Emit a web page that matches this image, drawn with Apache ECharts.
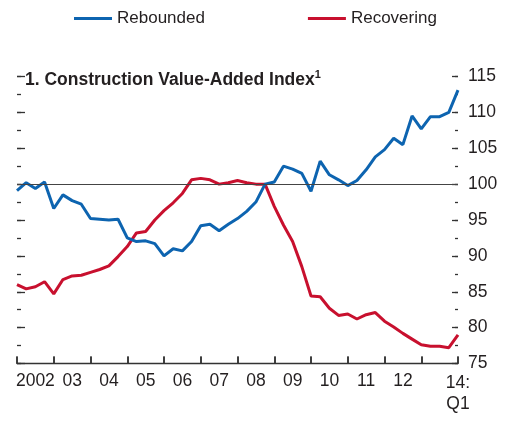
<!DOCTYPE html>
<html>
<head>
<meta charset="utf-8">
<script src="https://cdn.jsdelivr.net/npm/echarts@6/dist/echarts.min.js"></script>
<style>
  html, body { margin: 0; padding: 0; background: #fff; }
  #chart { width: 505px; height: 421px; }
</style>
</head>
<body>
<div id="chart"></div>
<script>
// Quarterly index, 2002:Q1 - 2014:Q1
const quarters = [];
for (let y = 2002; y <= 2014; y++) {
    for (let q = 1; q <= 4; q++) {
        if (y === 2014 && q > 1) break;
        quarters.push(y + 'Q' + q);
    }
}
const yearLabels = ['2002', '03', '04', '05', '06', '07', '08', '09', '10', '11', '12', ''];
// only the last quarter gets its own label
const endLabels = quarters.map(function (q, i) { return i === quarters.length - 1 ? '14:\nQ1' : ''; });

const rebounded = [99.1, 100.2, 99.4, 100.3, 96.6, 98.5, 97.7, 97.2, 95.2, 95.1, 95.0, 95.1,
    92.5, 92.0, 92.1, 91.7, 90.0, 91.0, 90.7, 92.0, 94.2, 94.4, 93.5, 94.4,
    95.2, 96.2, 97.5, 100.0, 100.3, 102.5, 102.1, 101.5, 99.0, 103.2, 101.3, 100.6,
    99.8, 100.5, 102.0, 103.8, 104.8, 106.4, 105.5, 109.5, 107.7, 109.4, 109.4, 110.0,
    113.1];
const recovering = [86.0, 85.4, 85.7, 86.4, 84.7, 86.7, 87.2, 87.3, 87.7, 88.1, 88.6, 89.9,
    91.3, 93.2, 93.4, 95.0, 96.3, 97.4, 98.7, 100.6, 100.8, 100.6, 100.0, 100.2,
    100.5, 100.2, 100.0, 100.0, 96.9, 94.3, 92.0, 88.5, 84.4, 84.3, 82.7, 81.7,
    81.9, 81.2, 81.8, 82.1, 80.9, 80.1, 79.2, 78.4, 77.6, 77.4, 77.4, 77.2,
    79.0];

const font = 'Liberation Sans';
const textColor = '#231f20';
const blue = '#0d64b0';
const red = '#c8102e';
const tickColor = '#333';

// plain tick-only y axis (no labels), used for major/minor tick sets
function tickAxis(position, interval, length) {
    return {
        type: 'value',
        position: position,
        min: 75,
        max: 115,
        interval: interval,
        axisLine: { show: false },
        axisTick: { show: true, inside: true, length: length, lineStyle: { color: tickColor, width: 1.3 } },
        axisLabel: { show: false },
        splitLine: { show: false }
    };
}

const chart = echarts.init(document.getElementById('chart'));
chart.setOption({
    animation: false,
    title: {
        text: '{a|1. Construction Value-Added Index}{b|1}',
        left: 20,
        top: 64,
        textStyle: {
            rich: {
                a: { fontFamily: font, fontWeight: 'bold', fontSize: 17.5, color: textColor, lineHeight: 22 },
                b: { fontFamily: font, fontWeight: 'bold', fontSize: 11, color: textColor, verticalAlign: 'top', lineHeight: 22 }
            }
        }
    },
    legend: {
        data: ['Rebounded', 'Recovering'],
        left: 69,
        top: 5,
        icon: 'rect',
        itemWidth: 38,
        itemHeight: 3,
        itemGap: 103,
        textStyle: { fontFamily: font, fontSize: 17, color: textColor }
    },
    grid: [
        { left: 17, right: 47, top: 76.5, bottom: 57.5 },
        // thin strip along the bottom axis, its split lines act as the year ticks
        { left: 17, right: 47, bottom: 57.5, height: 7 }
    ],
    xAxis: [
        {
            type: 'category',
            data: quarters,
            boundaryGap: false,
            axisLine: { show: true, lineStyle: { color: tickColor, width: 1.3 } },
            axisTick: { show: true, inside: true, length: 7, interval: 3, lineStyle: { color: tickColor, width: 1.5 } },
            axisLabel: { show: false },
            splitLine: { show: false }
        },
        {
            type: 'category',
            data: yearLabels,
            position: 'bottom',
            boundaryGap: true,
            axisLine: { show: false },
            axisTick: { show: false },
            axisLabel: { fontFamily: font, fontSize: 17.5, color: textColor, margin: 9, interval: 0 },
            splitLine: { show: false }
        },
        {
            type: 'category',
            data: endLabels,
            position: 'bottom',
            boundaryGap: false,
            axisLine: { show: false },
            axisTick: { show: false },
            axisLabel: { fontFamily: font, fontSize: 17.5, lineHeight: 21, color: textColor, margin: 9, interval: 0 },
            splitLine: { show: false }
        },
        {
            gridIndex: 1,
            type: 'category',
            data: yearLabels,
            boundaryGap: true,
            axisLine: { show: false },
            axisTick: { show: false },
            axisLabel: { show: false },
            splitLine: { show: true, interval: 0, lineStyle: { color: tickColor, width: 1.5 } }
        }
    ],
    yAxis: [
        {
            type: 'value',
            position: 'right',
            min: 75,
            max: 115,
            interval: 5,
            axisLine: { show: false },
            axisTick: { show: true, inside: true, length: 6, lineStyle: { color: tickColor, width: 1.3 } },
            axisLabel: { fontFamily: font, fontSize: 17.5, color: textColor, margin: 10 },
            splitLine: { show: false }
        },
        tickAxis('right', 2.5, 3),
        tickAxis('left', 5, 8),
        tickAxis('left', 2.5, 4),
        { gridIndex: 1, type: 'value', min: 0, max: 1, show: false }
    ],
    series: [
        {
            name: 'Recovering',
            type: 'line',
            data: recovering,
            symbol: 'none',
            color: red,
            lineStyle: { width: 3, color: red },
            markLine: {
                silent: true,
                symbol: 'none',
                label: { show: false },
                lineStyle: { color: '#444', width: 1.2, type: 'solid' },
                data: [{ yAxis: 100 }]
            }
        },
        {
            name: 'Rebounded',
            type: 'line',
            data: rebounded,
            symbol: 'none',
            color: blue,
            lineStyle: { width: 3, color: blue }
        }
    ]
});
</script>
</body>
</html>
